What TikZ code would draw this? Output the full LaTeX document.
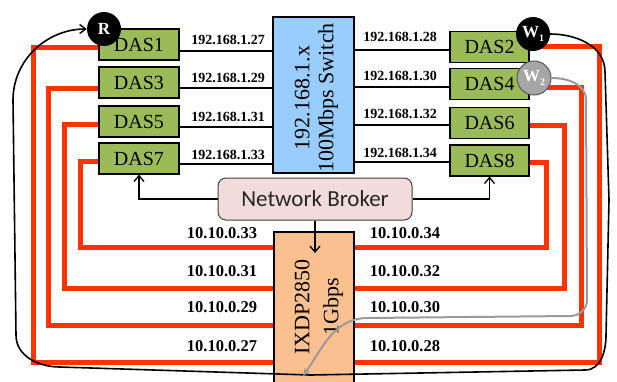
\documentclass[tikz,border=0pt]{standalone}
\usepackage{fontspec}
\setmainfont{Liberation Serif}
\newfontfamily\carl{Carlito}
\usetikzlibrary{arrows.meta,calc}
\definecolor{dasgreen}{HTML}{9BBB59}
\definecolor{swblue}{HTML}{99CCFF}
\definecolor{ixorange}{HTML}{FAC090}
\definecolor{brokerpink}{HTML}{F2DCDB}
\definecolor{redline}{HTML}{FF3300}
\definecolor{wgray}{HTML}{A6A6A6}
\definecolor{loopgray}{HTML}{9A9A9A}
\begin{document}
\begin{tikzpicture}[x=1pt,y=-1pt,
  dasbox/.style={draw=black,line width=1.1pt,fill=dasgreen,minimum width=80pt,minimum height=31pt,inner sep=0pt,font=\fontsize{20}{22}\selectfont},
  iplab/.style={font=\bfseries\fontsize{14}{15}\selectfont,inner sep=0pt},
  tenlab/.style={font=\bfseries\fontsize{16.5}{17}\selectfont,inner sep=0pt},
  link/.style={line width=1.3pt,black},
  redl/.style={line width=5pt,redline},
  arr/.style={line width=1.3pt,black,-{Straight Barb[length=6pt,width=10pt,line width=1.3pt]}},
  marker/.style={circle,minimum size=34pt,inner sep=0pt,text=white,font=\bfseries\fontsize{17}{17}\selectfont}]
\fill[white] (0,0) rectangle (617,381);
\useasboundingbox (0,0) rectangle (617,381);

% DAS boxes
\node[dasbox] (das1) at (139,44.5) {DAS1};
\node[dasbox] (das3) at (139,82.5) {DAS3};
\node[dasbox] (das5) at (139,121.5) {DAS5};
\node[dasbox] (das7) at (139,158.5) {DAS7};
\node[dasbox,minimum width=79pt] (das2) at (489.5,47) {DAS2};
\node[dasbox,minimum width=79pt] (das4) at (489.5,84) {DAS4};
\node[dasbox,minimum width=79pt] (das6) at (489.5,123) {DAS6};
\node[dasbox,minimum width=79pt] (das8) at (489.5,160.5) {DAS8};

% switch
\node[draw=black,line width=1.1pt,fill=swblue,minimum width=81pt,minimum height=156pt,inner sep=0pt] (sw) at (313.5,95) {};
\node[rotate=90,align=center,font=\fontsize{22}{24}\selectfont,inner sep=0pt] (swt) at (316.5,98) {192.168.1.x\\100Mbps Switch};

% red links
\draw[redl] (das1.west |- 0,47) -| (33,362) -- (274,362);
\draw[redl] (das3.west |- 0,88) -| (48,325) -- (274,325);
\draw[redl] (das5.west |- 0,124) -| (64,288) -- (274,288);
\draw[redl] (das7.west |- 0,161) -| (80,247) -- (274,247);
\draw[redl] (das2.east |- 0,46) -| (599,362) -- (354,362);
\draw[redl] (das4.east |- 0,87) -| (581,325) -- (354,325);
\draw[redl] (das6.east |- 0,125) -| (564,288) -- (354,288);
\draw[redl] (das8.east |- 0,162) -| (546,247) -- (354,247);

% IXDP box
\node[draw=black,line width=1.1pt,fill=ixorange,minimum width=80pt,minimum height=154pt,inner sep=0pt] (ix) at (314,309) {};
\node[rotate=90,align=center,font=\fontsize{22}{29}\selectfont,inner sep=0pt] (ixt) at (319,307) {IXDP2850\\1Gbps};

% switch links
\draw[link] (das1.east |- 0,51) -- (sw.west |- 0,51);
\draw[link] (das3.east |- 0,88) -- (sw.west |- 0,88);
\draw[link] (das5.east |- 0,127) -- (sw.west |- 0,127);
\draw[link] (das7.east |- 0,164) -- (sw.west |- 0,164);
\draw[link] (sw.east |- 0,50) -- (das2.west |- 0,50);
\draw[link] (sw.east |- 0,87) -- (das4.west |- 0,87);
\draw[link] (sw.east |- 0,125) -- (das6.west |- 0,125);
\draw[link] (sw.east |- 0,162) -- (das8.west |- 0,162);

% ip labels
\node[iplab] (l27) at (228,40) {192.168.1.27};
\node[iplab] (l29) at (228,78) {192.168.1.29};
\node[iplab] (l31) at (228,117) {192.168.1.31};
\node[iplab] (l33) at (228,155) {192.168.1.33};
\node[iplab] (l28) at (400,37) {192.168.1.28};
\node[iplab] (l30) at (400,76) {192.168.1.30};
\node[iplab] (l32) at (400,114) {192.168.1.32};
\node[iplab] (l34) at (400,153) {192.168.1.34};

\node[tenlab] (t33) at (222,233) {10.10.0.33};
\node[tenlab] (t31) at (222,271) {10.10.0.31};
\node[tenlab] (t29) at (222,307) {10.10.0.29};
\node[tenlab] (t27) at (222,346) {10.10.0.27};
\node[tenlab] (t34) at (405,233) {10.10.0.34};
\node[tenlab] (t32) at (405,271) {10.10.0.32};
\node[tenlab] (t30) at (405,307) {10.10.0.30};
\node[tenlab] (t28) at (405,346) {10.10.0.28};

% broker
\node[draw=black!75,line width=1pt,fill=brokerpink,rounded corners=8pt,minimum width=194pt,minimum height=42pt,inner sep=0pt,font=\carl\fontsize{23}{24}\selectfont,text=black!85] (broker) at (315,199) {Network Broker};
\coordinate (ixin) at (315,253);
\draw[arr] (broker.west) -| (das7.south);
\draw[arr] (broker.east) -| (das8.south);
\draw[arr] (broker.south) -- (ixin);

% markers
\node[marker,fill=black] (r) at (104,29) {R};
\node[marker,fill=black] (w1) at (533,34) {W\raisebox{-4pt}{\fontsize{10}{10}\selectfont 1}};
\node[marker,fill=wgray,draw=black!65,line width=1pt] (w2) at (534,78) {W\raisebox{-4pt}{\fontsize{10}{10}\selectfont 2}};

% black loop
\draw[line width=1.6pt,black,-{Straight Barb[length=6pt,width=9pt,line width=1.4pt]}]
  (w1.east) to[out=0,in=90] (605,72) -- (609,200) -- (606,335) to[out=-90,in=0] (585,370)
  -- (310,375) -- (60,367) to[out=180,in=-90] (16,335) -- (13,100) to[out=90,in=180] (r.west);

% gray loop
\coordinate (grayend) at (303,376);
\draw[line width=2pt,loopgray,-{Stealth[length=8pt,width=7pt]}]
  (w2.east) to[out=0,in=90] (586,100) -- (587,300) to[out=-90,in=0] (570,316)
  -- (368,318) to[out=180,in=55] (grayend);
\end{tikzpicture}
\end{document}
